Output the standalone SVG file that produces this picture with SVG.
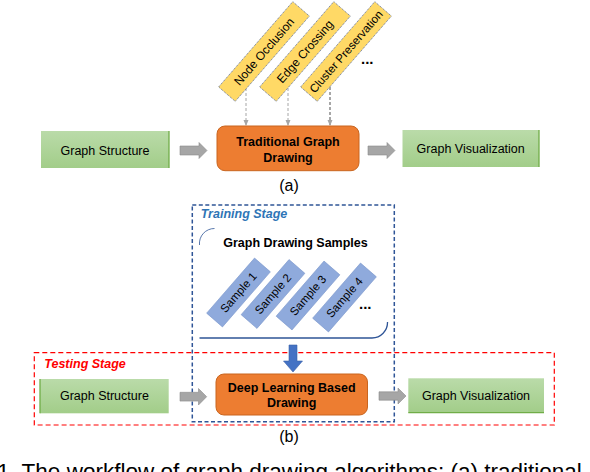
<svg xmlns="http://www.w3.org/2000/svg" width="590" height="472" viewBox="0 0 590 472">
<defs>
<linearGradient id="gg" x1="0" y1="0" x2="0" y2="1"><stop offset="0" stop-color="#badba9"/><stop offset="1" stop-color="#a2cd89"/></linearGradient>
<marker id="ah" markerWidth="6" markerHeight="6" refX="5" refY="3" orient="auto" markerUnits="userSpaceOnUse"><path d="M0,0.5 L6,3 L0,5.5 z" fill="#a6a6a6"/></marker>
</defs>
<style>
.t{font-family:"Liberation Sans",Arial,sans-serif;font-size:12.5px;fill:#000}
.b{font-weight:bold}
.c{text-anchor:middle}
.green{fill:url(#gg)}
.edge{stroke:#70ad47;stroke-width:1.3}
.orange{fill:#ed7d31;stroke:#c9651f;stroke-width:1}
.yellow{fill:#ffd966;stroke:#4a5f8f;stroke-width:0.8;stroke-dasharray:1 1}
.sample{fill:#8faadc;stroke:#7c97cc;stroke-width:0.6}
.garrow{fill:#a6a6a6;stroke:#8c8c8c;stroke-width:0.6}
.dash{stroke:#a6a6a6;fill:none;stroke-dasharray:3 2}
</style>

<!-- regions -->
<rect id="training-stage" x="192.3" y="205" width="202" height="216.7" fill="none" stroke="#2f5597" stroke-width="1.5" stroke-dasharray="4 2.5"/>
<rect id="testing-stage" x="34.3" y="352.7" width="520" height="72.3" fill="none" stroke="#ff0000" stroke-width="1.2" stroke-dasharray="5 3"/>
<text class="t b" x="200.7" y="217.5" font-style="italic" fill="#2e75b6" style="fill:#2e75b6">Training Stage</text>
<text class="t b" x="44.3" y="367.7" font-style="italic" style="fill:#ff0000">Testing Stage</text>

<!-- samples frame -->
<g id="samples-frame" fill="none" stroke="#2f5597">
<path d="M199.5,245 A15,15 0 0 1 214.5,228.5" stroke-width="0.8"/>
<path d="M199.5,338 H372 A15.5,15.5 0 0 0 387.5,322" stroke-width="1.3"/>
</g>
<text class="t b c" x="295.5" y="246.7">Graph Drawing Samples</text>

<!-- connectors -->
<g id="connectors">
<line class="dash" x1="246" y1="88" x2="246" y2="125" marker-end="url(#ah)"/>
<line class="dash" x1="288" y1="88" x2="288" y2="125" marker-end="url(#ah)"/>
<line class="dash" x1="330" y1="87" x2="330" y2="125" stroke-width="2" marker-end="url(#ah)"/>
<path class="garrow" d="M180,146 H199 V142.5 L207,150.5 L199,158.5 V155 H180 Z"/>
<path class="garrow" d="M368,146 H387 V142.5 L395,150.5 L387,158.5 V155 H368 Z"/>
<path class="garrow" d="M180,392.3 H198.5 V388.5 L206.7,396.7 L198.5,405 V401.1 H180 Z"/>
<path class="garrow" d="M379,391.8 H398 V388 L406,396 L398,404 V400.2 H379 Z"/>
<path d="M289,345 H297 V361 H302.5 L293,372 L283.5,361 H289 Z" fill="#4472c4" stroke="#3a62a8" stroke-width="0.6"/>
</g>

<!-- criteria -->
<g id="node-occlusion" transform="translate(264,51.5) rotate(-49)"><rect x="-56.5" y="-11" width="113" height="22" class="yellow"/><text class="t c" y="4.2" style="font-size:12px">Node Occlusion</text></g>
<g id="edge-crossing" transform="translate(305,51.5) rotate(-49)"><rect x="-56.5" y="-11" width="113" height="22" class="yellow"/><text class="t c" y="4.2" style="font-size:12px">Edge Crossing</text></g>
<g id="cluster-preservation" transform="translate(346,51.5) rotate(-49)"><rect x="-56.5" y="-11" width="113" height="22" class="yellow"/><text class="t c" y="4.1" style="font-size:11.6px">Cluster Preservation</text></g>
<text class="t b" x="361" y="64" style="font-size:15px">...</text>

<!-- (a) -->
<g id="graph-structure-a"><rect class="green" x="41" y="131" width="128" height="37"/><line class="edge" x1="169" y1="131" x2="169" y2="168"/><text class="t c" x="105" y="154.5">Graph Structure</text></g>
<g id="traditional-drawing"><rect class="orange" x="217" y="126" width="142" height="44.7" rx="8"/><text class="t b c" x="288" y="145.8">Traditional Graph</text><text class="t b c" x="288" y="161.5">Drawing</text></g>
<g id="graph-visualization-a"><rect class="green" x="402.5" y="130" width="136.5" height="37"/><line class="edge" x1="539" y1="130" x2="539" y2="167"/><text class="t c" x="470.7" y="152.8">Graph Visualization</text></g>
<text class="t c" x="289" y="191" style="font-size:16px">(a)</text>

<!-- samples -->
<g id="sample-1" transform="translate(238.5,292.5) rotate(-49)"><rect x="-36.5" y="-10.5" width="73" height="21" class="sample"/><text class="t c" y="4" style="font-size:11.5px">Sample 1</text></g>
<g id="sample-2" transform="translate(273,294) rotate(-49)"><rect x="-36.5" y="-10.5" width="73" height="21" class="sample"/><text class="t c" y="4" style="font-size:11.5px">Sample 2</text></g>
<g id="sample-3" transform="translate(308,295.5) rotate(-49)"><rect x="-36.5" y="-10.5" width="73" height="21" class="sample"/><text class="t c" y="4" style="font-size:11.5px">Sample 3</text></g>
<g id="sample-4" transform="translate(344.5,297.5) rotate(-49)"><rect x="-36.5" y="-10.5" width="73" height="21" class="sample"/><text class="t c" y="4" style="font-size:11.5px">Sample 4</text></g>
<text class="t b" x="359" y="309" style="font-size:15px">...</text>

<!-- (b) -->
<g id="graph-structure-b"><rect class="green" x="40" y="379" width="128.7" height="34.3"/><line class="edge" x1="40" y1="379" x2="40" y2="413.3"/><text class="t c" x="104.4" y="400.4">Graph Structure</text></g>
<g id="deep-learning-drawing"><rect class="orange" x="216" y="374" width="151.5" height="41" rx="8"/><text class="t b c" x="291.7" y="392">Deep Learning Based</text><text class="t b c" x="291.7" y="406.7">Drawing</text></g>
<g id="graph-visualization-b"><rect class="green" x="408.3" y="378.3" width="135.7" height="34.4"/><line class="edge" x1="408.3" y1="412.7" x2="544" y2="412.7"/><text class="t c" x="476" y="399.7">Graph Visualization</text></g>
<text class="t c" x="289" y="442" style="font-size:16px">(b)</text>

<text class="t" x="-3" y="479" style="font-size:22.5px">1. The workflow of graph drawing algorithms: (a) traditional</text>
</svg>
